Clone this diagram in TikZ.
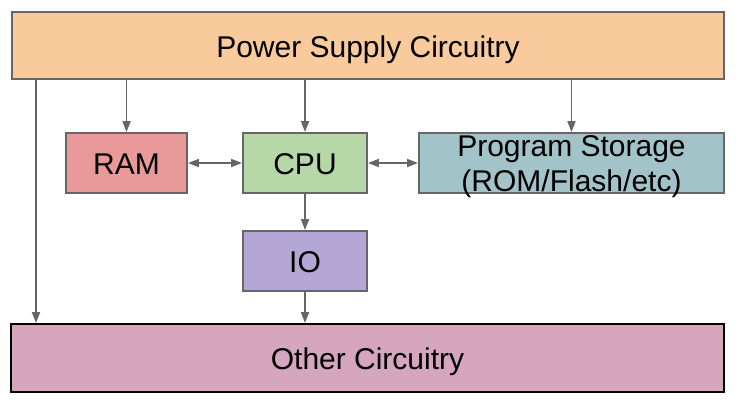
\documentclass[tikz,border=0pt]{standalone}
\usepackage{fontspec}
\setmainfont{Liberation Sans}
\usetikzlibrary{arrows.meta}
\definecolor{cpower}{HTML}{F9CB9C}
\definecolor{cram}{HTML}{EA9999}
\definecolor{ccpu}{HTML}{B6D7A8}
\definecolor{cps}{HTML}{A2C4C9}
\definecolor{cio}{HTML}{B4A7D6}
\definecolor{cother}{HTML}{D5A6BD}
\definecolor{cline}{HTML}{666666}
\begin{document}
\begin{tikzpicture}[x=1bp,y=-1bp,
  blk/.style={draw=cline,line width=1.9bp,inner sep=0pt,
    font=\fontsize{30bp}{35bp}\selectfont,text height=23bp,text depth=0bp},
  lbl/.style={inner sep=0pt,align=center,font=\fontsize{30bp}{35bp}\selectfont},
  arr/.style={draw=cline,line width=1.8bp,-{Triangle[length=11bp,width=8bp]},fill=cline},
  barr/.style={draw=cline,line width=1.8bp,{Triangle[length=11bp,width=8bp]}-{Triangle[length=11bp,width=8bp]}}]
\useasboundingbox (0,0) rectangle (739,402);
\node[blk,fill=cpower,minimum width=712bp,minimum height=67bp] (power) at (368,45.5) {Power Supply Circuitry};
\node[blk,fill=cram,minimum width=121bp,minimum height=60bp] (ram) at (126.5,163) {RAM};
\node[blk,fill=ccpu,minimum width=124bp,minimum height=60bp] (cpu) at (305,163) {CPU};
\node[blk,fill=cps,minimum width=305bp,minimum height=60bp] (ps) at (571.5,163) {};
\node[lbl] (pslabel) at (571.5,166.7) {Program Storage\\(ROM/Flash/etc)};
\node[blk,fill=cio,minimum width=124bp,minimum height=60bp] (io) at (305,261) {IO};
\node[blk,draw=black,fill=cother,minimum width=713bp,minimum height=68bp] (other) at (367.5,358) {Other Circuitry};
\coordinate (lft) at (36,0);
\draw[arr] (power.south -| lft) -- (other.north -| lft);
\draw[arr] (power.south -| ram) -- (ram.north);
\draw[arr] (power.south -| cpu) -- (cpu.north);
\draw[arr] (power.south -| ps) -- (ps.north);
\draw[barr] (ram.east) -- (cpu.west);
\draw[barr] (cpu.east) -- (ps.west);
\draw[arr] (cpu.south) -- (io.north);
\draw[arr] (io.south) -- (other.north -| io);
\end{tikzpicture}
\end{document}
